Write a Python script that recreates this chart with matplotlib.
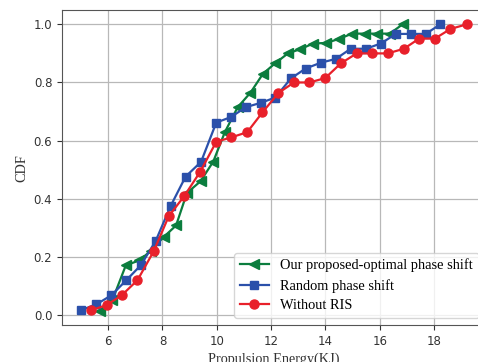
import numpy as np
import matplotlib
matplotlib.use("Agg")
import matplotlib.pyplot as plt

# ----------------- data -----------------
opt_x = [5.69, 6.15, 6.65, 7.15, 7.56, 8.04, 8.50, 8.90, 9.40, 9.87, 10.30, 10.77, 11.24,
         11.70, 12.16, 12.62, 13.08, 13.55, 14.03, 14.50, 14.98, 15.46, 15.90, 16.37, 16.84]
opt_y = [0.014, 0.050, 0.171, 0.188, 0.220, 0.268, 0.308, 0.420, 0.460, 0.528, 0.630, 0.715, 0.765,
         0.830, 0.867, 0.900, 0.915, 0.934, 0.936, 0.950, 0.968, 0.968, 0.968, 0.968, 1.000]

rand_x = [5.01, 5.57, 6.12, 6.67, 7.20, 7.75, 8.30, 8.85, 9.42, 9.98, 10.52, 11.07, 11.62,
          12.15, 12.73, 13.27, 13.83, 14.38, 14.93, 15.49, 16.04, 16.59, 17.14, 17.69, 18.23]
rand_y = [0.017, 0.037, 0.068, 0.120, 0.171, 0.255, 0.375, 0.476, 0.527, 0.662, 0.681, 0.715, 0.730,
          0.748, 0.814, 0.848, 0.868, 0.881, 0.916, 0.916, 0.934, 0.967, 0.967, 0.967, 1.000]

noris_x = [5.35, 5.94, 6.50, 7.08, 7.68, 8.23, 8.80, 9.39, 9.98, 10.53, 11.12, 11.68, 12.27,
           12.84, 13.41, 13.99, 14.57, 15.15, 15.73, 16.29, 16.89, 17.45, 18.03, 18.60, 19.20]
noris_y = [0.016, 0.034, 0.068, 0.120, 0.220, 0.340, 0.409, 0.493, 0.596, 0.611, 0.629, 0.697, 0.764,
           0.800, 0.800, 0.815, 0.866, 0.900, 0.900, 0.900, 0.916, 0.951, 0.951, 0.984, 1.000]

labels = ["Our proposed-optimal phase shift", "Random phase shift", "Without RIS"]

# ----------------- plotting -----------------
fig = plt.figure(figsize=(4.78, 3.62), dpi=100)
# axes runs past the right edge, as in the (cropped) reference
ax = fig.add_axes([0.1297, 0.1014, 0.887, 0.871])

ax.plot(opt_x, opt_y, marker="<", color="#0b7d3e", lw=1.6, ms=6.5, label=labels[0])
ax.plot(rand_x, rand_y, marker="s", color="#2b50aa", lw=1.6, ms=6, label=labels[1])
ax.plot(noris_x, noris_y, marker="o", color="#e8202a", lw=1.6, ms=6.5, label=labels[2])

ax.grid(True, color="#b8b8b8", lw=0.9)
ax.set_axisbelow(True)
ax.set_xticks([6, 8, 10, 12, 14, 16, 18])
ax.set_yticks([0.0, 0.2, 0.4, 0.6, 0.8, 1.0])
ax.tick_params(labelsize=8.5, colors="#333333")
for sp in ax.spines.values():
    sp.set_color("#555555")

serif = ["Liberation Serif", "DejaVu Serif"]
ax.set_xlabel("Propulsion Energy(KJ)", fontsize=10.3, family=serif, color="#333333", labelpad=3)
ax.set_ylabel("CDF", fontsize=10.3, family=serif, color="#333333")

leg = ax.legend(loc="lower right", prop={"family": serif, "size": 10.4},
                labelspacing=0.45, frameon=True)
leg.get_frame().set_edgecolor("#cccccc")

fig.savefig("out.png", dpi=100)
